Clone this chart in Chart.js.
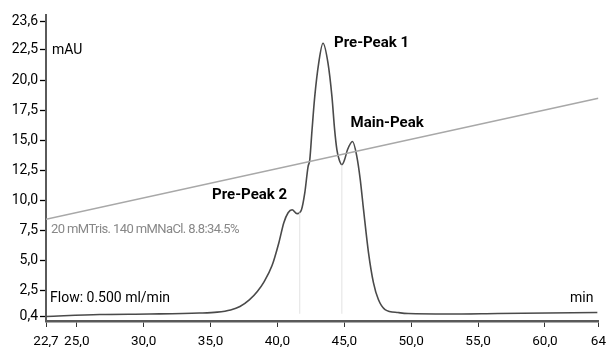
<!DOCTYPE html>
<html>
<head>
<meta charset="utf-8">
<script src="https://cdn.jsdelivr.net/npm/chart.js@4"></script>
<style>
  body { margin: 0; background: #fff; }
  #wrap { width: 613px; height: 347px; }
</style>
</head>
<body>
<div id="wrap"><canvas id="chart" width="613" height="347"></canvas></div>
<script>
// chromatogram trace (min, mAU)
const timeMin = [22.7, 26.72, 30.44, 34.16, 35.5, 36.5, 37.2, 37.9, 38.5, 39.0, 39.6, 40.11, 40.48, 40.8, 41.1, 41.47, 41.8, 42.05, 42.29, 42.42, 42.59, 42.79, 43.09, 43.41, 43.78, 44.08, 44.28, 44.45, 44.62, 44.82, 45.02, 45.24, 45.62, 45.94, 46.19, 46.44, 46.81, 47.18, 47.55, 48.05, 49.04, 49.78, 52.76, 56.48, 63.92];
const absorbance = [0.37, 0.54, 0.58, 0.66, 0.74, 0.92, 1.2, 1.75, 2.45, 3.25, 4.6, 6.5, 8.16, 8.99, 9.24, 8.91, 9.24, 10.65, 12.8, 13.38, 15.87, 18.6, 21.42, 23.05, 21.42, 18.6, 15.87, 14.21, 13.38, 12.97, 13.38, 14.21, 14.9, 13.65, 11.78, 9.24, 5.68, 3.19, 1.78, 0.95, 0.7, 0.62, 0.58, 0.62, 0.7];

// buffer gradient line
const gradientTime = [22.7, 64];
const gradientLevel = [8.45, 18.49];

// peak split drop lines
const dropTime = [41.67, 44.82];
const dropTop = [9.0, 12.97];
const dropBase = 0.6;

// peak names
const peakNames = ["Pre-Peak 1", "Main-Peak", "Pre-Peak 2"];
const peakTimes = [43.41, 45.62, 41.1];
const peakHeights = [23.05, 14.9, 9.24];

const xTicks = [22.7, 25, 30, 35, 40, 45, 50, 55, 60, 64];
// the top label "23,6" sits just under the axis end in the original, not at its linear place
const yTicks = [0.4, 2.5, 5, 7.5, 10, 12.5, 15, 17.5, 20, 22.5, 24.9];
const yTickLabels = ["0,4", "2,5", "5,0", "7,5", "10,0", "12,5", "15,0", "17,5", "20,0", "22,5", "23,6"];

const fmt = v => Number.isInteger(v) && v > 60 ? String(v) : v.toFixed(1).replace(".", ",");

const traceData = timeMin.map((t, i) => ({ x: t, y: absorbance[i] }));
const gradData = gradientTime.map((t, i) => ({ x: t, y: gradientLevel[i] }));

const dropSets = dropTime.map((t, i) => ({
  data: [{ x: t, y: dropBase }, { x: t, y: dropTop[i] }],
  borderColor: "#e2e2e2",
  borderWidth: 1,
  pointRadius: 0
}));

const textPlugin = {
  id: "texts",
  afterDatasetsDraw(chart) {
    const { ctx, scales: { x, y }, chartArea } = chart;
    ctx.save();
    ctx.textBaseline = "middle";

    // peak names
    ctx.fillStyle = "#000";
    ctx.font = "bold 15px Roboto, sans-serif";
    const off = [[11, 0, "left"], [-2, -18, "left"], [-5, -14, "right"]];
    peakNames.forEach((name, i) => {
      ctx.textAlign = off[i][2];
      ctx.fillText(name, x.getPixelForValue(peakTimes[i]) + off[i][0], y.getPixelForValue(peakHeights[i]) + off[i][1]);
    });

    ctx.textAlign = "left";
    ctx.font = "14px Roboto, sans-serif";
    ctx.fillText("mAU", chartArea.left + 6, 50);
    ctx.fillText("Flow: 0.500 ml/min", chartArea.left + 4, 298);
    ctx.textAlign = "right";
    ctx.fillText("min", chartArea.right - 5, 298);

    ctx.textAlign = "left";
    ctx.fillStyle = "#888";
    ctx.font = "13px Roboto, sans-serif";
    ctx.letterSpacing = "-0.6px";
    ctx.fillText("20 mMTris. 140 mMNaCl. 8.8:34.5%", chartArea.left + 5, 230);
    ctx.restore();
  }
};

new Chart(document.getElementById("chart"), {
  type: "line",
  data: {
    datasets: [
      { data: gradData, borderColor: "#a8a8a8", borderWidth: 1.5, pointRadius: 0 },
      ...dropSets,
      { data: traceData, borderColor: "#4a4a4a", borderWidth: 1.6, pointRadius: 0, cubicInterpolationMode: "monotone" }
    ]
  },
  options: {
    responsive: false,
    animation: false,
    layout: { padding: { top: 15, right: 12, left: 0, bottom: 0 } },
    plugins: { legend: { display: false }, tooltip: { enabled: false } },
    scales: {
      x: {
        type: "linear",
        min: 22.7,
        max: 64,
        afterBuildTicks: s => { s.ticks = xTicks.map(v => ({ value: v })); },
        afterFit: s => { s.height = 26; },
        border: { color: "#5a5a5a", width: 2.5 },
        grid: { drawOnChartArea: false, drawTicks: true, tickLength: 6, tickColor: "#333", tickWidth: 1 },
        ticks: {
          autoSkip: false, maxRotation: 0, padding: 7, color: "#000",
          font: { family: "Roboto, sans-serif", size: 13.5 },
          callback: v => fmt(v)
        }
      },
      y: {
        type: "linear",
        min: 0,
        max: 25.4,
        afterBuildTicks: s => { s.ticks = yTicks.map(v => ({ value: v })); },
        afterFit: s => { s.width = 46; },
        border: { color: "#5a5a5a", width: 2 },
        grid: { drawOnChartArea: false, drawTicks: true, tickLength: 6, tickColor: "#000", tickWidth: 1.3 },
        ticks: {
          autoSkip: false, padding: 2, color: "#000",
          font: { family: "Roboto, sans-serif", size: 14 },
          callback: (v, i) => yTickLabels[i]
        }
      }
    }
  },
  plugins: [textPlugin]
});
</script>
</body>
</html>
